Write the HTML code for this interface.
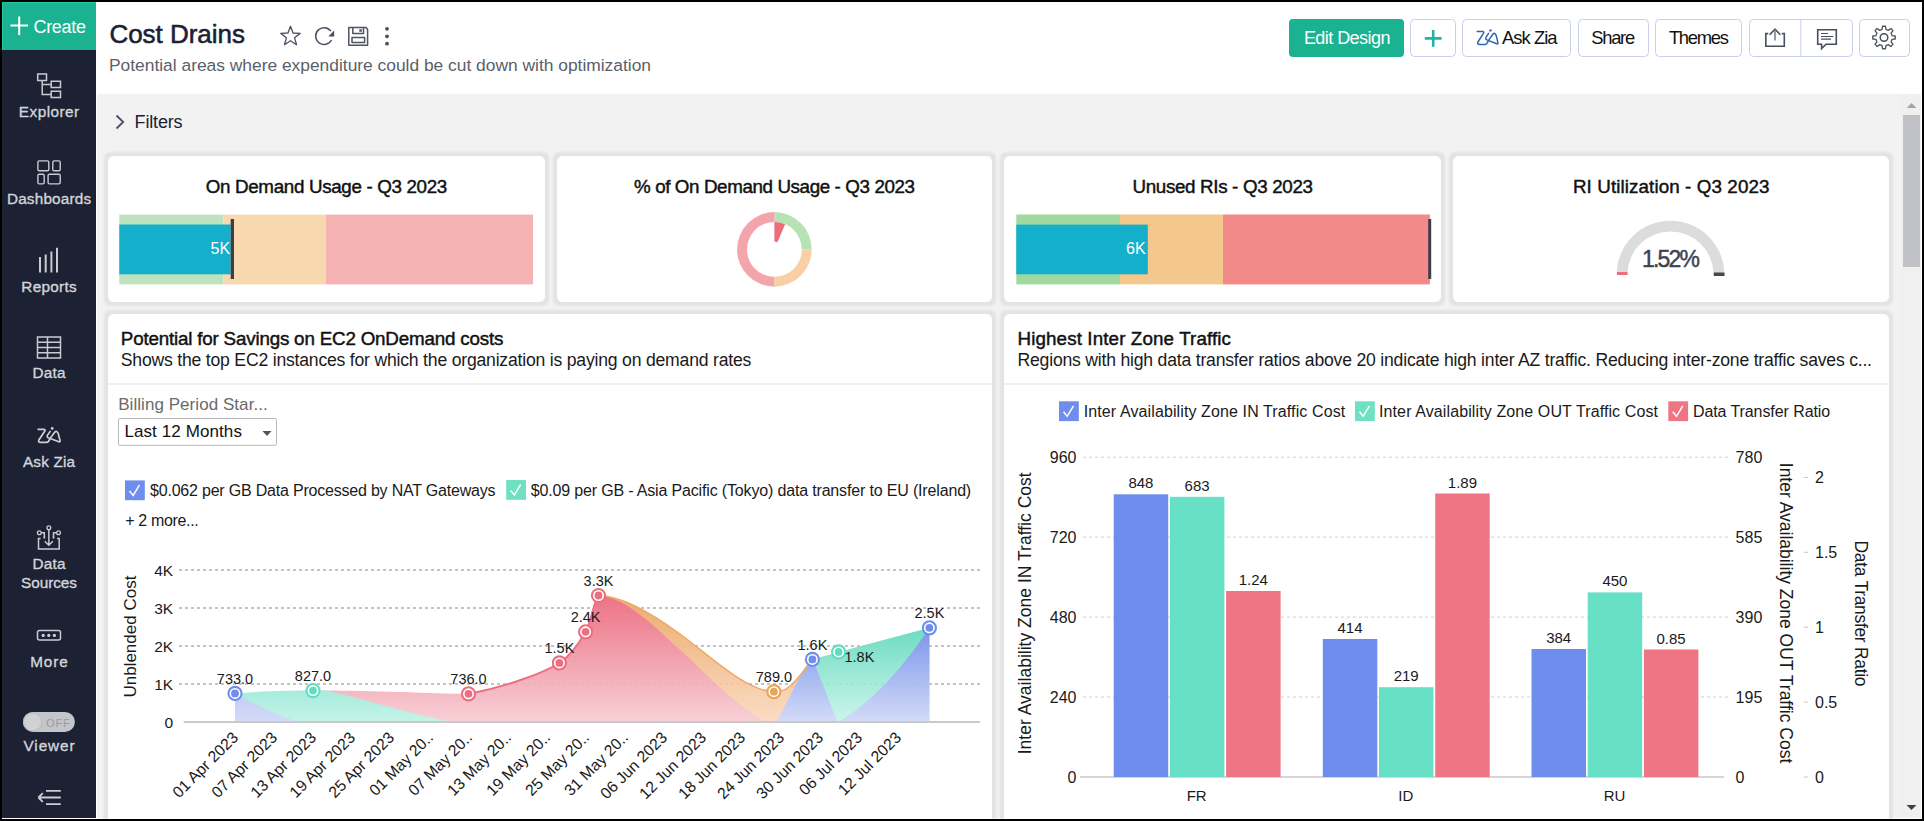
<!DOCTYPE html>
<html><head><meta charset="utf-8"><title>Cost Drains</title>
<style>
*{margin:0;padding:0}
html,body{width:1924px;height:821px;overflow:hidden;background:#000}
svg{position:absolute;left:0;top:0;display:block}
text{font-family:"Liberation Sans", Arial, sans-serif}
</style></head>
<body>
<svg width="1924" height="821" viewBox="0 0 1924 821">
<defs>
<filter id="sh" x="-5%" y="-5%" width="110%" height="110%"><feMorphology in="SourceAlpha" operator="dilate" radius="3.5" result="d"/><feGaussianBlur in="d" stdDeviation="1.3"/><feComponentTransfer><feFuncA type="linear" slope="0.065"/></feComponentTransfer><feMerge><feMergeNode/><feMergeNode in="SourceGraphic"/></feMerge></filter>
<linearGradient id="gO" x1="0" y1="595" x2="0" y2="722" gradientUnits="userSpaceOnUse"><stop offset="0" stop-color="#eeab6c"/><stop offset="1" stop-color="#fadcc5"/></linearGradient>
<linearGradient id="gR" x1="0" y1="595" x2="0" y2="722" gradientUnits="userSpaceOnUse"><stop offset="0" stop-color="#ec7285"/><stop offset="1" stop-color="#f8d0d7"/></linearGradient>
<linearGradient id="gT" x1="0" y1="690" x2="0" y2="722" gradientUnits="userSpaceOnUse"><stop offset="0" stop-color="#a5ecdc"/><stop offset="1" stop-color="#c6f3e8"/></linearGradient>
<linearGradient id="gT2" x1="0" y1="628" x2="0" y2="722" gradientUnits="userSpaceOnUse"><stop offset="0" stop-color="#6ddcc2"/><stop offset="1" stop-color="#cdf5eb"/></linearGradient>
<linearGradient id="gB" x1="0" y1="690" x2="0" y2="722" gradientUnits="userSpaceOnUse"><stop offset="0" stop-color="#c0cbf5"/><stop offset="1" stop-color="#d3dbf7"/></linearGradient>
<linearGradient id="gB2" x1="0" y1="628" x2="0" y2="722" gradientUnits="userSpaceOnUse"><stop offset="0" stop-color="#7a95eb"/><stop offset="1" stop-color="#d3dbf7"/></linearGradient>
</defs>
<clipPath id="cp"><rect x="2" y="2" width="1920" height="817"/></clipPath>
<g clip-path="url(#cp)">
<rect x="2" y="2" width="1920" height="817" fill="#f2f2f2"/>
<rect x="96" y="2" width="1826" height="92" fill="#ffffff"/>
<rect x="96" y="94" width="1" height="725" fill="#ffffff"/>
<rect x="2" y="2" width="94" height="817" fill="#1c2133"/>
<rect x="2" y="2" width="94" height="48" fill="#1bb291"/>
<rect x="2" y="2" width="94" height="1" fill="#22c6a3"/>
<rect x="2" y="2" width="1" height="48" fill="#22c6a3"/>
<rect x="1901" y="94" width="20" height="724" fill="#f0f0f0"/>
<rect x="1903" y="115" width="17" height="152" fill="#c1c2c7"/>
<path d="M1906.8,108 L1911.6,103 L1916.4,108 Z" fill="#a3a5ab"/>
<path d="M1906.5,805 L1916.5,805 L1911.5,810 Z" fill="#3e4049"/>
<rect x="1921" y="2" width="1" height="817" fill="#ffffff"/>
<rect x="2" y="818" width="1920" height="1" fill="#ffffff"/>
<g filter="url(#sh)">
<rect x="108" y="156" width="437" height="146" fill="#fff" rx="6"/>
<rect x="557" y="156" width="435" height="146" fill="#fff" rx="6"/>
<rect x="1004" y="156" width="437" height="146" fill="#fff" rx="6"/>
<rect x="1453" y="156" width="436" height="146" fill="#fff" rx="6"/>
<rect x="108" y="314" width="884" height="540" fill="#fff" rx="6"/>
<rect x="1004" y="314" width="885" height="540" fill="#fff" rx="6"/>
</g>
<text x="33.5" y="32.9" font-size="18" fill="#fff" textLength="52.4" lengthAdjust="spacing">Create</text>
<path d="M10.5,25.5 H28 M19.2,16.5 V35" stroke="#fff" stroke-width="2" fill="none"/>
<text x="49" y="117.1" font-size="15.3" fill="#d3d5db" text-anchor="middle" textLength="60.3" lengthAdjust="spacing" stroke="#d3d5db" stroke-width="0.35">Explorer</text>
<text x="49" y="204.1" font-size="15.3" fill="#d3d5db" text-anchor="middle" textLength="84.1" lengthAdjust="spacing" stroke="#d3d5db" stroke-width="0.35">Dashboards</text>
<text x="49" y="291.8" font-size="15.3" fill="#d3d5db" text-anchor="middle" textLength="55.5" lengthAdjust="spacing" stroke="#d3d5db" stroke-width="0.35">Reports</text>
<text x="49" y="377.8" font-size="15.3" fill="#d3d5db" text-anchor="middle" textLength="33" lengthAdjust="spacing" stroke="#d3d5db" stroke-width="0.35">Data</text>
<text x="49" y="467" font-size="15.3" fill="#d3d5db" text-anchor="middle" textLength="52" lengthAdjust="spacing" stroke="#d3d5db" stroke-width="0.35">Ask Zia</text>
<text x="49" y="568.8" font-size="15.3" fill="#d3d5db" text-anchor="middle" textLength="33" lengthAdjust="spacing" stroke="#d3d5db" stroke-width="0.35">Data</text>
<text x="49" y="588" font-size="15.3" fill="#d3d5db" text-anchor="middle" textLength="56" lengthAdjust="spacing" stroke="#d3d5db" stroke-width="0.35">Sources</text>
<text x="49" y="667.3" font-size="15.3" fill="#d3d5db" text-anchor="middle" textLength="37.5" lengthAdjust="spacing" stroke="#d3d5db" stroke-width="0.35">More</text>
<text x="49" y="750.5" font-size="15.3" fill="#d3d5db" text-anchor="middle" textLength="51" lengthAdjust="spacing" stroke="#d3d5db" stroke-width="0.35">Viewer</text>
<path d="M37.7,73.9 h8.8 v6.5 h-8.8 z M51.2,81.3 h9.3 v6.1 h-9.3 z M51.2,91.3 h9.3 v6.1 h-9.3 z M42.2,80.4 V94.6 H51.2 M42.2,84.4 H51.2" stroke="#c9cbd1" stroke-width="1.5" fill="none"/>
<rect x="37.9" y="160.9" width="10.9" height="9.8" fill="none" rx="1.3" stroke="#c9cbd1" stroke-width="1.4"/>
<rect x="52.8" y="160.9" width="7.4" height="9.8" fill="none" rx="1.3" stroke="#c9cbd1" stroke-width="1.4"/>
<rect x="37.9" y="174.3" width="6.3" height="9.6" fill="none" rx="1.3" stroke="#c9cbd1" stroke-width="1.4"/>
<rect x="48.1" y="174.3" width="12.1" height="9.6" fill="none" rx="1.3" stroke="#c9cbd1" stroke-width="1.4"/>
<path d="M40,257 V272.5 M45.7,254.5 V272.5 M51.4,251.6 V272.5 M57,247.7 V272.5" stroke="#c9cbd1" stroke-width="2" fill="none"/>
<path d="M37.5,337 h23 v21 h-23 z M37.5,342.3 h23 M37.5,347.6 h23 M37.5,352.8 h23 M47.5,337 v21" stroke="#c9cbd1" stroke-width="1.5" fill="none"/>
<g transform="translate(38.1,429.4) scale(1.06,1.0) translate(-1477.2,-31.4)">
<path d="M1477.2,31.4 H1482.5 Q1484.4,31.6 1483.4,33.3 L1477.9,42 Q1476.9,44.4 1479.6,44.4 H1485.3 Q1487,44.4 1488.4,40.6 M1488.6,33.4 L1486,37.4 Q1485.2,39.3 1487.5,40.1 L1496.7,43.8 Q1498.2,44.2 1497.9,42.6 L1496.2,35.6 Q1494.9,31.9 1492.8,34.3 L1488.4,40.6" stroke="#cfd1d6" stroke-width="1.6" fill="none" stroke-linejoin="round" stroke-linecap="round"/>
<circle cx="1490.5" cy="30.4" r="1.3" fill="#cfd1d6"/>
</g>
<path d="M40.6,538.5 H38.5 V549 H59.2 V538.5 H57 M48.85,529.8 V545 M44.8,541.3 L48.85,545.3 L52.9,541.3 M41.2,532.8 H44.3 V537 M56.6,532.8 H53.5 V537" stroke="#c9cbd1" stroke-width="1.5" fill="none"/>
<circle cx="48.85" cy="527.7" r="1.9" fill="none" stroke="#c9cbd1" stroke-width="1.3"/>
<circle cx="39.3" cy="532.8" r="1.9" fill="none" stroke="#c9cbd1" stroke-width="1.3"/>
<circle cx="58.5" cy="532.8" r="1.9" fill="none" stroke="#c9cbd1" stroke-width="1.3"/>
<circle cx="44.3" cy="537.6" r="1.1" fill="#c9cbd1"/>
<circle cx="53.5" cy="537.6" r="1.1" fill="#c9cbd1"/>
<rect x="37.5" y="630.5" width="23" height="9.5" fill="none" rx="2" stroke="#c9cbd1" stroke-width="1.5"/>
<circle cx="43.2" cy="635.4" r="1.6" fill="#cfd1d6"/>
<circle cx="48.8" cy="635.4" r="1.6" fill="#cfd1d6"/>
<circle cx="54.4" cy="635.4" r="1.6" fill="#cfd1d6"/>
<rect x="22.9" y="711.9" width="52" height="20" fill="#c4c5ca" rx="10"/>
<circle cx="32.6" cy="721.9" r="9.2" fill="#d0d1d4" stroke="#b3b4b9" stroke-width="0.8"/>
<text x="46.1" y="726.7" font-size="11" fill="#9a9ca3" textLength="23.7" lengthAdjust="spacing">OFF</text>
<path d="M38.4,797.5 H60.8 M38.4,797.5 L42.8,793.1 M38.4,797.5 L42.8,801.9 M46,790.9 H60.8 M46,804.1 H60.8" stroke="#cbcdd3" stroke-width="1.8" fill="none"/>
<text x="109.4" y="42.5" font-size="26" fill="#1b2033" textLength="135.5" lengthAdjust="spacing" stroke="#1b2033" stroke-width="0.55">Cost Drains</text>
<text x="109" y="70.6" font-size="17.4" fill="#5b5f6b" textLength="542" lengthAdjust="spacing">Potential areas where expenditure could be cut down with optimization</text>
<path d="M290.50,26.30 L293.03,33.02 L300.20,33.35 L294.59,37.83 L296.50,44.75 L290.50,40.80 L284.50,44.75 L286.41,37.83 L280.80,33.35 L287.97,33.02 Z" stroke="#4f5463" stroke-width="1.35" fill="none" stroke-linejoin="round"/>
<path d="M331.5,40 A8.4,8.4 0 1 1 330.8,31" stroke="#4f5463" stroke-width="1.5" fill="none" stroke-linejoin="round"/>
<path d="M334.2,30.5 L334.2,36.5 L328.3,36.5 Z" fill="#4a4f5e"/>
<path d="M348.8,27.5 H366 L367.6,29.5 V45.2 H348.8 Z M352.8,27.5 V33.5 H363.5 V27.5 M352,37.6 H364.6 V42.5 H352 Z" stroke="#4f5463" stroke-width="1.5" fill="none" stroke-linejoin="round"/>
<rect x="359.3" y="29.2" width="2.6" height="2.6" fill="#5a5e6c"/>
<circle cx="387" cy="28.8" r="1.9" fill="#4a4f5e"/>
<circle cx="387" cy="36.3" r="1.9" fill="#4a4f5e"/>
<circle cx="387" cy="43.7" r="1.9" fill="#4a4f5e"/>
<rect x="1289" y="19" width="115" height="38" fill="#1bb291" rx="4"/>
<text x="1303.9" y="43.9" font-size="18" fill="#fff" textLength="86.5" lengthAdjust="spacing">Edit Design</text>
<rect x="1410.5" y="19.5" width="45.0" height="37" fill="#fff" rx="4" stroke="#c8d0ec" stroke-width="1"/>
<rect x="1462.5" y="19.5" width="108.0" height="37" fill="#fff" rx="4" stroke="#c8d0ec" stroke-width="1"/>
<rect x="1578.5" y="19.5" width="70.0" height="37" fill="#fff" rx="4" stroke="#c8d0ec" stroke-width="1"/>
<rect x="1655.5" y="19.5" width="86.0" height="37" fill="#fff" rx="4" stroke="#c8d0ec" stroke-width="1"/>
<rect x="1749.5" y="19.5" width="103.0" height="37" fill="#fff" rx="4" stroke="#c8d0ec" stroke-width="1"/>
<rect x="1859.5" y="19.5" width="50.0" height="37" fill="#fff" rx="4" stroke="#c8d0ec" stroke-width="1"/>
<line x1="1800.8" y1="19.5" x2="1800.8" y2="56.5" stroke="#c8d0ec" stroke-width="1"/>
<path d="M1424.8,38.4 H1441.6 M1433.2,30 V46.8" stroke="#20b4a4" stroke-width="2.6" fill="none"/>
<path d="M1477.2,31.4 H1482.5 Q1484.4,31.6 1483.4,33.3 L1477.9,42 Q1476.9,44.4 1479.6,44.4 H1485.3 Q1487,44.4 1488.4,40.6 M1488.6,33.4 L1486,37.4 Q1485.2,39.3 1487.5,40.1 L1496.7,43.8 Q1498.2,44.2 1497.9,42.6 L1496.2,35.6 Q1494.9,31.9 1492.8,34.3 L1488.4,40.6" stroke="#2f64b0" stroke-width="1.5" fill="none" stroke-linejoin="round" stroke-linecap="round"/>
<circle cx="1490.5" cy="30.4" r="1.2" fill="#2f64b0"/>
<text x="1502" y="44.1" font-size="18.4" fill="#111" textLength="55.5" lengthAdjust="spacing">Ask Zia</text>
<text x="1591.2" y="44.1" font-size="18.4" fill="#111" textLength="44" lengthAdjust="spacing">Share</text>
<text x="1668.9" y="44.1" font-size="18.4" fill="#111" textLength="60" lengthAdjust="spacing">Themes</text>
<path d="M1768.2,33.6 H1765.8 V46.3 H1784.3 V33.6 H1781.8 M1769.6,34.8 L1775,29.2 L1780.4,34.8" stroke="#4a4f5e" stroke-width="1.6" fill="none"/>
<path d="M1775,29.5 V40.5" stroke="#7d828e" stroke-width="1.6" fill="none"/>
<path d="M1817.7,29.8 H1836.3 V44.2 H1826 L1821.6,48.5 V44.2 H1817.7 Z" stroke="#4a4f5e" stroke-width="1.6" fill="none" stroke-linejoin="miter"/>
<path d="M1821,33.5 H1828 M1821,36.5 H1833.3 M1821,39.2 H1831" stroke="#4a4f5e" stroke-width="1.2" fill="none"/>
<path d="M1892.07,35.55 L1895.21,36.04 L1895.21,38.96 L1892.07,39.45 L1891.09,41.82 L1892.96,44.39 L1890.89,46.46 L1888.32,44.59 L1885.95,45.57 L1885.46,48.71 L1882.54,48.71 L1882.05,45.57 L1879.68,44.59 L1877.11,46.46 L1875.04,44.39 L1876.91,41.82 L1875.93,39.45 L1872.79,38.96 L1872.79,36.04 L1875.93,35.55 L1876.91,33.18 L1875.04,30.61 L1877.11,28.54 L1879.68,30.41 L1882.05,29.43 L1882.54,26.29 L1885.46,26.29 L1885.95,29.43 L1888.32,30.41 L1890.89,28.54 L1892.96,30.61 L1891.09,33.18 Z" stroke="#50545f" stroke-width="1.35" fill="none" stroke-linejoin="round"/>
<circle cx="1884" cy="37.5" r="3.8" stroke="#4a4f5e" stroke-width="1.5" fill="none"/>
<path d="M116.5,115.5 L123.2,122 L116.5,128.5" stroke="#4a4f63" stroke-width="1.8" fill="none"/>
<text x="134.6" y="127.9" font-size="18" fill="#1c2035" textLength="48" lengthAdjust="spacing">Filters</text>
<text x="326.5" y="192.7" font-size="18.8" fill="#111" text-anchor="middle" textLength="241.5" lengthAdjust="spacing" stroke="#111" stroke-width="0.45">On Demand Usage - Q3 2023</text>
<text x="774.5" y="192.7" font-size="18.8" fill="#111" text-anchor="middle" textLength="281" lengthAdjust="spacing" stroke="#111" stroke-width="0.45">% of On Demand Usage - Q3 2023</text>
<text x="1222.7" y="192.7" font-size="18.8" fill="#111" text-anchor="middle" textLength="180.5" lengthAdjust="spacing" stroke="#111" stroke-width="0.45">Unused RIs - Q3 2023</text>
<text x="1671.2" y="192.7" font-size="18.8" fill="#111" text-anchor="middle" textLength="196.5" lengthAdjust="spacing" stroke="#111" stroke-width="0.45">RI Utilization - Q3 2023</text>
<rect x="119.3" y="214.6" width="104" height="69.8" fill="#bde3be"/>
<rect x="223.3" y="214.6" width="102.7" height="69.8" fill="#f8d8af"/>
<rect x="326" y="214.6" width="207" height="69.8" fill="#f5b2b3"/>
<rect x="119.3" y="224.5" width="111.4" height="49.8" fill="#13afcb"/>
<rect x="230.7" y="219" width="3.3" height="60" fill="#3d3f46"/>
<text x="230.2" y="253.9" font-size="16" fill="#fff" text-anchor="end">5K</text>
<rect x="1016.3" y="214.5" width="103.7" height="69.9" fill="#a1d89f"/>
<rect x="1120" y="214.5" width="103" height="69.9" fill="#f4c78d"/>
<rect x="1223" y="214.5" width="206.9" height="69.9" fill="#f28a8a"/>
<rect x="1016.3" y="224.6" width="131.5" height="49.7" fill="#13afcb"/>
<rect x="1428.2" y="219" width="3" height="60" fill="#3d3f46"/>
<text x="1145.6" y="253.7" font-size="16" fill="#fff" text-anchor="end">6K</text>
<path d="M774.40,212.10 A37.3,37.3 0 0 1 811.70,249.40 L801.80,249.40 A27.4,27.4 0 0 0 774.40,222.00 Z" fill="#b6e2b4"/>
<path d="M811.70,249.40 A37.3,37.3 0 0 1 774.40,286.70 L774.40,276.80 A27.4,27.4 0 0 0 801.80,249.40 Z" fill="#f9d0a6"/>
<path d="M774.40,286.70 A37.3,37.3 0 0 1 774.40,212.10 L774.40,222.00 A27.4,27.4 0 0 0 774.40,276.80 Z" fill="#f4a5ac"/>
<path d="M774.40,222.00 A27.4,27.4 0 0 1 785.11,224.18 L777.45,242.22 A7.8,7.8 0 0 0 774.40,241.60 Z" fill="#ee6c7c"/>
<path d="M1616.70,274.50 A53.8,53.8 0 0 1 1724.30,274.50 L1713.50,274.50 A43,43 0 0 0 1627.50,274.50 Z" fill="#dcdcdc"/>
<rect x="1617" y="272" width="10.5" height="3" fill="#ee6c7c"/>
<rect x="1713.8" y="272.5" width="10.7" height="3.5" fill="#45474f"/>
<text x="1671" y="267.2" font-size="23" fill="#3f4350" text-anchor="middle" textLength="58" lengthAdjust="spacing" stroke="#3f4350" stroke-width="0.45">1.52%</text>
<text x="120.8" y="345.4" font-size="18.8" fill="#111" textLength="382.5" lengthAdjust="spacing" stroke="#111" stroke-width="0.45">Potential for Savings on EC2 OnDemand costs</text>
<text x="120.8" y="366.3" font-size="17.6" fill="#1a1a1a" textLength="630.5" lengthAdjust="spacing">Shows the top EC2 instances for which the organization is paying on demand rates</text>
<rect x="108" y="383.5" width="884" height="1" fill="#e4e4e4"/>
<rect x="1004" y="383.5" width="885" height="1" fill="#e4e4e4"/>
<text x="118.2" y="409.6" font-size="17" fill="#6a6a6a" textLength="149.5" lengthAdjust="spacing">Billing Period Star...</text>
<rect x="118.5" y="418.5" width="158" height="26.8" fill="#fff" stroke="#b9b9b9" stroke-width="1" rx="1.5"/>
<text x="124.4" y="436.8" font-size="17" fill="#111" textLength="117.5" lengthAdjust="spacing">Last 12 Months</text>
<path d="M262.5,431 L271.5,431 L267,436 Z" fill="#555"/>
<rect x="125" y="480.4" width="19.8" height="19.8" fill="#6e8ded"/>
<path d="M129.5,490.9 L133.2,495.4 L139.5,484.9" stroke="#fff" stroke-width="1.5" fill="none"/>
<text x="150" y="496" font-size="16" fill="#1a1a1a" textLength="345.5" lengthAdjust="spacing">$0.062 per GB Data Processed by NAT Gateways</text>
<rect x="506.2" y="480" width="19.8" height="19.8" fill="#6ee0c4"/>
<path d="M510.7,490.5 L514.4,495 L520.7,484.5" stroke="#fff" stroke-width="1.5" fill="none"/>
<text x="530.7" y="496" font-size="16" fill="#1a1a1a" textLength="440.5" lengthAdjust="spacing">$0.09 per GB - Asia Pacific (Tokyo) data transfer to EU (Ireland)</text>
<text x="125.2" y="525.7" font-size="16" fill="#1a1a1a" textLength="73.5" lengthAdjust="spacing">+ 2 more...</text>
<text x="173.2" y="727.7" font-size="15.5" fill="#1a1a1a" text-anchor="end">0</text>
<text x="173.2" y="689.7" font-size="15.5" fill="#1a1a1a" text-anchor="end">1K</text>
<line x1="179" y1="684" x2="980" y2="684" stroke="#c9c9c9" stroke-width="2" stroke-dasharray="3,3" stroke-dashoffset="0"/>
<text x="173.2" y="651.7" font-size="15.5" fill="#1a1a1a" text-anchor="end">2K</text>
<line x1="179" y1="646" x2="980" y2="646" stroke="#c9c9c9" stroke-width="2" stroke-dasharray="3,3" stroke-dashoffset="0"/>
<text x="173.2" y="613.7" font-size="15.5" fill="#1a1a1a" text-anchor="end">3K</text>
<line x1="179" y1="608" x2="980" y2="608" stroke="#c9c9c9" stroke-width="2" stroke-dasharray="3,3" stroke-dashoffset="0"/>
<text x="173.2" y="575.7" font-size="15.5" fill="#1a1a1a" text-anchor="end">4K</text>
<line x1="179" y1="570" x2="980" y2="570" stroke="#c9c9c9" stroke-width="2" stroke-dasharray="3,3" stroke-dashoffset="0"/>
<text x="0" y="0" font-size="17" fill="#1a1a1a" text-anchor="middle" textLength="122" lengthAdjust="spacing" transform="translate(135.5,636.6) rotate(-90)">Unblended Cost</text>
<path d="M598.5,595.5 C620,596 650,612 680,634 C715,660 745,690 774,692 C790,693 800,675 812.4,659.4 L812.4,722 L600,722 Z" fill="url(#gO)"/>
<path d="M313,690.6 C360,690 430,693.5 468.5,694 C500,688 540,675 559.4,663 C570,656 578,645 585.6,632 C592,620 594,600 598.5,595.5 C625,598 650,622 678,648 C705,672 735,705 765,722 L313,722 Z" fill="url(#gR)"/>
<path d="M235,722 L235,693.4 C265,691 290,690.6 313,690.6 L326,690.6 C370,700 410,715 453,722 L299,722 Z" fill="url(#gT)"/>
<path d="M812.4,659.4 L838.6,651.9 L929.4,627.8 L929.4,722 L812.4,722 Z" fill="url(#gT2)"/>
<path d="M235,722 L235,693.4 C255,705 280,716 299,722 Z" fill="url(#gB)"/>
<path d="M776,722 C790,700 800,670 812.4,659.4 C820,675 830,705 838,722 Z" fill="url(#gB2)"/>
<path d="M838,722 C870,705 905,665 929.4,627.8 L929.4,722 Z" fill="url(#gB2)"/>
<path d="M598.5,595.5 C620,596 650,612 680,634 C715,660 745,690 774,692 C790,693 800,675 812.4,659.4" stroke="#eea965" stroke-width="1.5" fill="none"/>
<path d="M468.5,694 C500,688 540,675 559.4,663 C570,656 578,645 585.6,632 C592,620 594,600 598.5,595.5" stroke="#ec6f81" stroke-width="2" fill="none"/>
<line x1="179" y1="684" x2="980" y2="684" stroke="#b0b0b0" stroke-width="2" stroke-dasharray="3,3" opacity="0.16"/>
<line x1="179" y1="646" x2="980" y2="646" stroke="#b0b0b0" stroke-width="2" stroke-dasharray="3,3" opacity="0.16"/>
<line x1="179" y1="608" x2="980" y2="608" stroke="#b0b0b0" stroke-width="2" stroke-dasharray="3,3" opacity="0.16"/>
<line x1="179" y1="570" x2="980" y2="570" stroke="#b0b0b0" stroke-width="2" stroke-dasharray="3,3" opacity="0.16"/>
<line x1="183.7" y1="722" x2="980" y2="722" stroke="#c9c9c9" stroke-width="2"/>
<circle cx="235" cy="693.4" r="7.6" fill="#6e8ded"/><circle cx="235" cy="693.4" r="4.7" fill="none" stroke="#fff" stroke-width="1.6"/>
<text x="235" y="683.9" font-size="14.5" fill="#1a1a1a" text-anchor="middle">733.0</text>
<circle cx="313" cy="690.6" r="7.6" fill="#62dcc0"/><circle cx="313" cy="690.6" r="4.7" fill="none" stroke="#fff" stroke-width="1.6"/>
<text x="313" y="681.1" font-size="14.5" fill="#1a1a1a" text-anchor="middle">827.0</text>
<circle cx="468.5" cy="693.8" r="7.6" fill="#ec6f81"/><circle cx="468.5" cy="693.8" r="4.7" fill="none" stroke="#fff" stroke-width="1.6"/>
<text x="468.5" y="684.3" font-size="14.5" fill="#1a1a1a" text-anchor="middle">736.0</text>
<circle cx="559.4" cy="662.9" r="7.6" fill="#ec6f81"/><circle cx="559.4" cy="662.9" r="4.7" fill="none" stroke="#fff" stroke-width="1.6"/>
<text x="559.4" y="653.4" font-size="14.5" fill="#1a1a1a" text-anchor="middle">1.5K</text>
<circle cx="585.6" cy="631.8" r="7.6" fill="#ec6f81"/><circle cx="585.6" cy="631.8" r="4.7" fill="none" stroke="#fff" stroke-width="1.6"/>
<text x="585.6" y="622.3" font-size="14.5" fill="#1a1a1a" text-anchor="middle">2.4K</text>
<circle cx="598.5" cy="595.5" r="7.6" fill="#ec6f81"/><circle cx="598.5" cy="595.5" r="4.7" fill="none" stroke="#fff" stroke-width="1.6"/>
<text x="598.5" y="586.0" font-size="14.5" fill="#1a1a1a" text-anchor="middle">3.3K</text>
<circle cx="773.9" cy="691.7" r="7.6" fill="#eaa458"/><circle cx="773.9" cy="691.7" r="4.7" fill="none" stroke="#fff" stroke-width="1.6"/>
<text x="773.9" y="682.2" font-size="14.5" fill="#1a1a1a" text-anchor="middle">789.0</text>
<circle cx="812.4" cy="659.4" r="7.6" fill="#6e8ded"/><circle cx="812.4" cy="659.4" r="4.7" fill="none" stroke="#fff" stroke-width="1.6"/>
<text x="812.4" y="649.9" font-size="14.5" fill="#1a1a1a" text-anchor="middle">1.6K</text>
<circle cx="838.6" cy="651.9" r="7.6" fill="#62dcc0"/><circle cx="838.6" cy="651.9" r="4.7" fill="none" stroke="#fff" stroke-width="1.6"/>
<circle cx="929.4" cy="627.8" r="7.6" fill="#6e8ded"/><circle cx="929.4" cy="627.8" r="4.7" fill="none" stroke="#fff" stroke-width="1.6"/>
<text x="929.4" y="618.3" font-size="14.5" fill="#1a1a1a" text-anchor="middle">2.5K</text>
<text x="844.5" y="661.5" font-size="14.5" fill="#1a1a1a">1.8K</text>
<text x="0" y="0" font-size="15.8" fill="#1a1a1a" text-anchor="end" transform="translate(239.2,738.5) rotate(-45)">01 Apr 2023</text>
<text x="0" y="0" font-size="15.8" fill="#1a1a1a" text-anchor="end" transform="translate(278.2,738.5) rotate(-45)">07 Apr 2023</text>
<text x="0" y="0" font-size="15.8" fill="#1a1a1a" text-anchor="end" transform="translate(317.2,738.5) rotate(-45)">13 Apr 2023</text>
<text x="0" y="0" font-size="15.8" fill="#1a1a1a" text-anchor="end" transform="translate(356.2,738.5) rotate(-45)">19 Apr 2023</text>
<text x="0" y="0" font-size="15.8" fill="#1a1a1a" text-anchor="end" transform="translate(395.2,738.5) rotate(-45)">25 Apr 2023</text>
<text x="0" y="0" font-size="15.8" fill="#1a1a1a" text-anchor="end" transform="translate(434.2,738.5) rotate(-45)">01 May 20..</text>
<text x="0" y="0" font-size="15.8" fill="#1a1a1a" text-anchor="end" transform="translate(473.2,738.5) rotate(-45)">07 May 20..</text>
<text x="0" y="0" font-size="15.8" fill="#1a1a1a" text-anchor="end" transform="translate(512.2,738.5) rotate(-45)">13 May 20..</text>
<text x="0" y="0" font-size="15.8" fill="#1a1a1a" text-anchor="end" transform="translate(551.2,738.5) rotate(-45)">19 May 20..</text>
<text x="0" y="0" font-size="15.8" fill="#1a1a1a" text-anchor="end" transform="translate(590.2,738.5) rotate(-45)">25 May 20..</text>
<text x="0" y="0" font-size="15.8" fill="#1a1a1a" text-anchor="end" transform="translate(629.2,738.5) rotate(-45)">31 May 20..</text>
<text x="0" y="0" font-size="15.8" fill="#1a1a1a" text-anchor="end" transform="translate(668.2,738.5) rotate(-45)">06 Jun 2023</text>
<text x="0" y="0" font-size="15.8" fill="#1a1a1a" text-anchor="end" transform="translate(707.2,738.5) rotate(-45)">12 Jun 2023</text>
<text x="0" y="0" font-size="15.8" fill="#1a1a1a" text-anchor="end" transform="translate(746.2,738.5) rotate(-45)">18 Jun 2023</text>
<text x="0" y="0" font-size="15.8" fill="#1a1a1a" text-anchor="end" transform="translate(785.2,738.5) rotate(-45)">24 Jun 2023</text>
<text x="0" y="0" font-size="15.8" fill="#1a1a1a" text-anchor="end" transform="translate(824.2,738.5) rotate(-45)">30 Jun 2023</text>
<text x="0" y="0" font-size="15.8" fill="#1a1a1a" text-anchor="end" transform="translate(863.2,738.5) rotate(-45)">06 Jul 2023</text>
<text x="0" y="0" font-size="15.8" fill="#1a1a1a" text-anchor="end" transform="translate(902.2,738.5) rotate(-45)">12 Jul 2023</text>
<text x="1017.5" y="344.6" font-size="18.8" fill="#111" textLength="213.5" lengthAdjust="spacing" stroke="#111" stroke-width="0.45">Highest Inter Zone Traffic</text>
<text x="1017.5" y="366" font-size="17.6" fill="#1a1a1a" textLength="854.5" lengthAdjust="spacing">Regions with high data transfer ratios above 20 indicate high inter AZ traffic. Reducing inter-zone traffic saves c...</text>
<rect x="1059" y="401.3" width="19.8" height="19.8" fill="#6e8ded"/>
<path d="M1063.5,411.8 L1067.2,416.3 L1073.5,405.8" stroke="#fff" stroke-width="1.5" fill="none"/>
<text x="1083.7" y="416.8" font-size="16" fill="#1a1a1a" textLength="261.5" lengthAdjust="spacing">Inter Availability Zone IN Traffic Cost</text>
<rect x="1355" y="401.3" width="19.8" height="19.8" fill="#6ee0c4"/>
<path d="M1359.5,411.8 L1363.2,416.3 L1369.5,405.8" stroke="#fff" stroke-width="1.5" fill="none"/>
<text x="1379" y="416.8" font-size="16" fill="#1a1a1a" textLength="279" lengthAdjust="spacing">Inter Availability Zone OUT Traffic Cost</text>
<rect x="1668.3" y="401.3" width="19.8" height="19.8" fill="#ef7585"/>
<path d="M1672.8,411.8 L1676.5,416.3 L1682.8,405.8" stroke="#fff" stroke-width="1.5" fill="none"/>
<text x="1692.9" y="416.8" font-size="16" fill="#1a1a1a" textLength="137.3" lengthAdjust="spacing">Data Transfer Ratio</text>
<text x="1076.5" y="782.5" font-size="16" fill="#1a1a1a" text-anchor="end">0</text>
<text x="1735.6" y="782.5" font-size="16" fill="#1a1a1a">0</text>
<text x="1076.5" y="702.55" font-size="16" fill="#1a1a1a" text-anchor="end">240</text>
<text x="1735.6" y="702.55" font-size="16" fill="#1a1a1a">195</text>
<line x1="1083" y1="697.0" x2="1728" y2="697.0" stroke="#cfcfcf" stroke-width="1" stroke-dasharray="3,3"/>
<text x="1076.5" y="622.6" font-size="16" fill="#1a1a1a" text-anchor="end">480</text>
<text x="1735.6" y="622.6" font-size="16" fill="#1a1a1a">390</text>
<line x1="1083" y1="617.1" x2="1728" y2="617.1" stroke="#cfcfcf" stroke-width="1" stroke-dasharray="3,3"/>
<text x="1076.5" y="542.65" font-size="16" fill="#1a1a1a" text-anchor="end">720</text>
<text x="1735.6" y="542.65" font-size="16" fill="#1a1a1a">585</text>
<line x1="1083" y1="537.1" x2="1728" y2="537.1" stroke="#cfcfcf" stroke-width="1" stroke-dasharray="3,3"/>
<text x="1076.5" y="462.7" font-size="16" fill="#1a1a1a" text-anchor="end">960</text>
<text x="1735.6" y="462.7" font-size="16" fill="#1a1a1a">780</text>
<line x1="1083" y1="457.2" x2="1728" y2="457.2" stroke="#cfcfcf" stroke-width="1" stroke-dasharray="3,3"/>
<line x1="1803.6" y1="777.0" x2="1808" y2="777.0" stroke="#c9c9c9" stroke-width="1"/>
<text x="1815" y="782.5" font-size="16" fill="#1a1a1a">0</text>
<line x1="1803.6" y1="702.1" x2="1808" y2="702.1" stroke="#c9c9c9" stroke-width="1"/>
<text x="1815" y="707.6" font-size="16" fill="#1a1a1a">0.5</text>
<line x1="1803.6" y1="627.2" x2="1808" y2="627.2" stroke="#c9c9c9" stroke-width="1"/>
<text x="1815" y="632.7" font-size="16" fill="#1a1a1a">1</text>
<line x1="1803.6" y1="552.3" x2="1808" y2="552.3" stroke="#c9c9c9" stroke-width="1"/>
<text x="1815" y="557.8" font-size="16" fill="#1a1a1a">1.5</text>
<line x1="1803.6" y1="477.4" x2="1808" y2="477.4" stroke="#c9c9c9" stroke-width="1"/>
<text x="1815" y="482.9" font-size="16" fill="#1a1a1a">2</text>
<line x1="1080" y1="777" x2="1724" y2="777" stroke="#c9c9c9" stroke-width="1.3"/>
<rect x="1113.7" y="494.3" width="54.5" height="282.7" fill="#6e8ded"/>
<text x="1140.9" y="488.3" font-size="15" fill="#1a1a1a" text-anchor="middle">848</text>
<rect x="1169.9" y="496.8" width="54.5" height="280.2" fill="#68e0c5"/>
<text x="1197.1" y="490.8" font-size="15" fill="#1a1a1a" text-anchor="middle">683</text>
<rect x="1226.1" y="591.0" width="54.5" height="186.0" fill="#ef7585"/>
<text x="1253.3" y="585.0" font-size="15" fill="#1a1a1a" text-anchor="middle">1.24</text>
<text x="1196.7" y="800.5" font-size="15" fill="#1a1a1a" text-anchor="middle">FR</text>
<rect x="1322.8" y="639.0" width="54.5" height="138.0" fill="#6e8ded"/>
<text x="1350.0" y="633.0" font-size="15" fill="#1a1a1a" text-anchor="middle">414</text>
<rect x="1379.0" y="687.2" width="54.5" height="89.8" fill="#68e0c5"/>
<text x="1406.2" y="681.2" font-size="15" fill="#1a1a1a" text-anchor="middle">219</text>
<rect x="1435.2" y="493.5" width="54.5" height="283.5" fill="#ef7585"/>
<text x="1462.4" y="487.5" font-size="15" fill="#1a1a1a" text-anchor="middle">1.89</text>
<text x="1405.8" y="800.5" font-size="15" fill="#1a1a1a" text-anchor="middle">ID</text>
<rect x="1531.5" y="649.0" width="54.5" height="128.0" fill="#6e8ded"/>
<text x="1558.7" y="643.0" font-size="15" fill="#1a1a1a" text-anchor="middle">384</text>
<rect x="1587.7" y="592.4" width="54.5" height="184.6" fill="#68e0c5"/>
<text x="1614.9" y="586.4" font-size="15" fill="#1a1a1a" text-anchor="middle">450</text>
<rect x="1643.9" y="649.5" width="54.5" height="127.5" fill="#ef7585"/>
<text x="1671.1" y="643.5" font-size="15" fill="#1a1a1a" text-anchor="middle">0.85</text>
<text x="1614.5" y="800.5" font-size="15" fill="#1a1a1a" text-anchor="middle">RU</text>
<text x="0" y="0" font-size="17.5" fill="#1a1a1a" text-anchor="middle" textLength="282" lengthAdjust="spacing" transform="translate(1031,613.3) rotate(-90)">Inter Availability Zone IN Traffic Cost</text>
<text x="0" y="0" font-size="17.5" fill="#1a1a1a" text-anchor="middle" textLength="300.5" lengthAdjust="spacing" transform="translate(1779.5,613) rotate(90)">Inter Availability Zone OUT Traffic Cost</text>
<text x="0" y="0" font-size="17.5" fill="#1a1a1a" text-anchor="middle" textLength="146" lengthAdjust="spacing" transform="translate(1855,613.5) rotate(90)">Data Transfer Ratio</text>
</g>
</svg>
</body></html>
